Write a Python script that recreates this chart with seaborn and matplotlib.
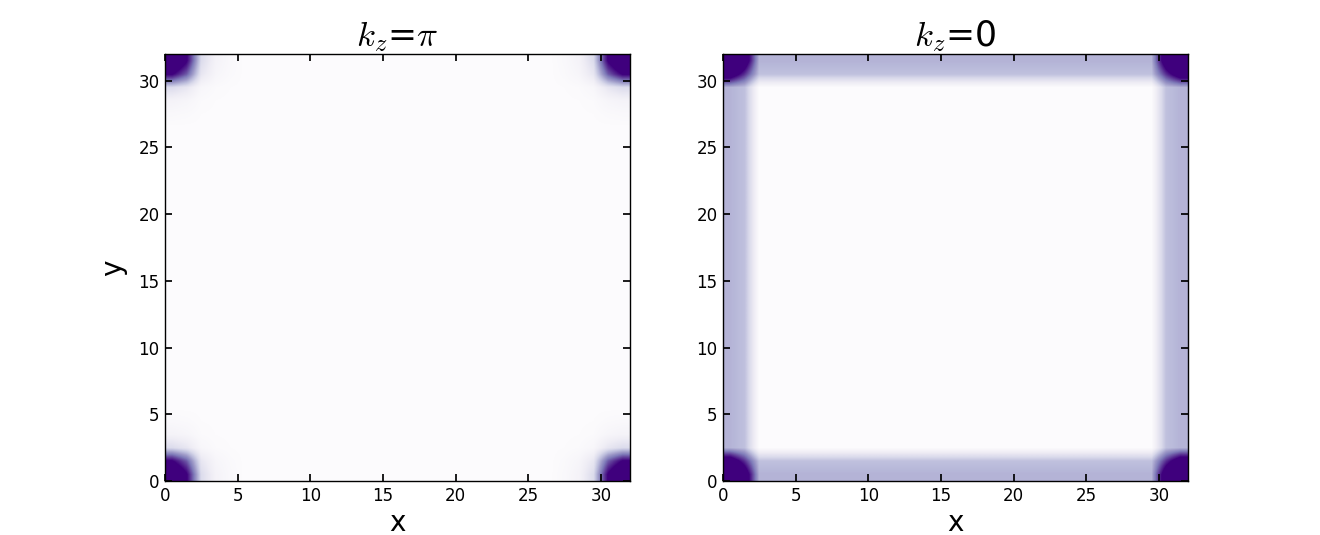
import numpy as np
import matplotlib
matplotlib.use("Agg")
import matplotlib.pyplot as plt
import seaborn as sns

# ---- data ----
n_sites = 32
titles = [r"$k_z$=$\pi$", r"$k_z$=0"]
tick_values = [0, 5, 10, 15, 20, 25, 30]
# weight profile from a corner inwards (kz = pi: corner states)
corner_profile_pi = [1.2, 0.85, 0.2, 0.06, 0.02]
# kz = 0: edge band + corner
edge_profile_0 = [0.41, 0.36, 0.0]
corner_profile_0 = [1.2, 0.7, 0.0]


def mirror(profile, n):
    v = np.zeros(n)
    k = len(profile)
    p = np.asarray(profile, dtype=float)
    v[:k] = np.maximum(v[:k], p)
    v[n - k:] = np.maximum(v[n - k:], p[::-1])
    return v


c_pi = mirror(corner_profile_pi, n_sites)
density_pi = np.outer(c_pi, c_pi)

e0 = mirror(edge_profile_0, n_sites)
c0 = mirror(corner_profile_0, n_sites)
density_0 = np.maximum(e0[:, None], e0[None, :]) + np.outer(c0, c0)

sns.set_theme(style="white", rc={
    "axes.edgecolor": "black",
    "axes.linewidth": 1.0,
    "axes.labelcolor": "black",
    "text.color": "black",
    "xtick.direction": "in",
    "ytick.direction": "in",
    "xtick.top": True,
    "ytick.right": True,
    "xtick.bottom": True,
    "ytick.left": True,
    "xtick.major.size": 5,
    "ytick.major.size": 5,
    "xtick.color": "black",
    "ytick.color": "black",
    "mathtext.fontset": "cm",
})
plt.rcParams["font.family"] = ["DejaVu Sans"]

fig = plt.figure(figsize=(13.2, 5.35), dpi=100)
width = 0.775 / 2.2
axes = [fig.add_axes([0.125, 0.101, width, 0.798]),
        fig.add_axes([0.125 + width * 1.2, 0.101, width, 0.798])]

for ax, data, title in zip(axes, [density_pi, density_0], titles):
    ax.imshow(data, cmap="Purples", vmin=0, vmax=1, origin="lower",
              extent=[0, n_sites, 0, n_sites], interpolation="bilinear",
              aspect="auto")
    ax.set_xlim(0, n_sites)
    ax.set_ylim(0, n_sites)
    ax.set_xticks(tick_values)
    ax.set_yticks(tick_values)
    ax.tick_params(labelsize=12, pad=4)
    ax.set_title(title, fontsize=25, pad=2)
    ax.set_xlabel("x", fontsize=20, labelpad=3)
    for s in ax.spines.values():
        s.set_visible(True)
        s.set_color("black")

axes[0].set_ylabel("y", fontsize=20, labelpad=8)

fig.savefig("out.png", dpi=100)
